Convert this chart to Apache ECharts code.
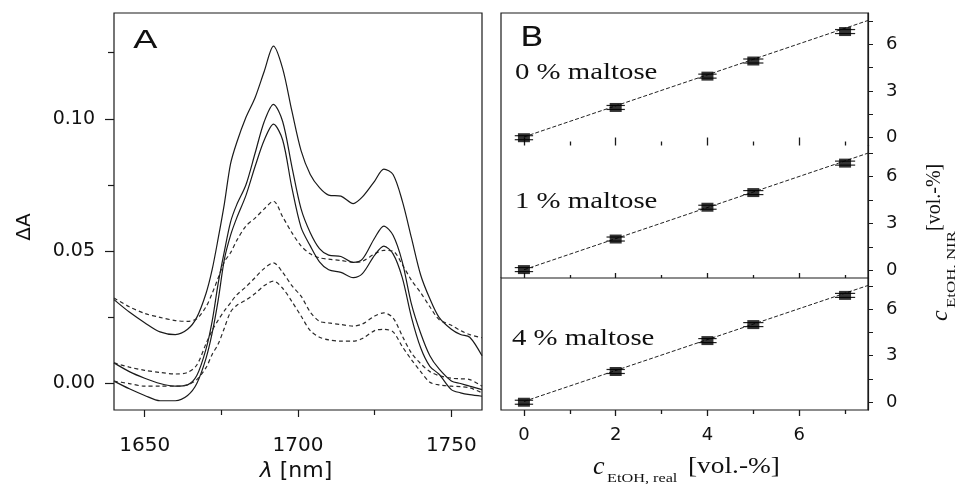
<!DOCTYPE html>
<html>
<head>
<meta charset="utf-8">
<script src="https://cdn.jsdelivr.net/npm/echarts@6/dist/echarts.min.js"></script>
<style>
html,body{margin:0;padding:0;background:#fff;}
#chart{width:955px;height:484px;}
</style>
</head>
<body>
<div id="chart"></div>
<script>
// ---------- Panel A data ----------
const wavelengths = [1640,1645,1650,1655,1660,1664,1667,1670,1672,1674,1676,1678,1680,1683,1686,1689,1692,1695,1698,1701,1704,1707,1710,1714,1718,1721,1725,1728,1731,1734,1737,1740,1743,1746,1750,1753,1756,1760];
const solid1 = [0.0317,0.027,0.023,0.0195,0.0185,0.0205,0.025,0.034,0.043,0.055,0.068,0.083,0.091,0.1005,0.108,0.118,0.1275,0.119,0.103,0.088,0.079,0.074,0.0712,0.0708,0.068,0.0705,0.0765,0.081,0.079,0.069,0.055,0.041,0.032,0.025,0.0205,0.0185,0.0175,0.0105];
const dashed1 = [0.0323,0.029,0.0265,0.025,0.0238,0.0235,0.0245,0.029,0.034,0.040,0.046,0.0494,0.054,0.0595,0.0625,0.066,0.0689,0.063,0.057,0.052,0.049,0.0475,0.047,0.0465,0.0458,0.0462,0.049,0.0503,0.050,0.045,0.039,0.0343,0.029,0.0242,0.022,0.020,0.0185,0.0173];
const solid2 = [0.0078,0.0045,0.002,0.0,-0.001,-0.0005,0.003,0.013,0.0235,0.038,0.050,0.061,0.0675,0.075,0.087,0.099,0.1055,0.099,0.082,0.066,0.057,0.051,0.0485,0.048,0.0458,0.047,0.055,0.0595,0.056,0.046,0.030,0.019,0.0105,0.0055,0.001,0.0,-0.001,-0.0023];
const solid3 = [0.0009,-0.002,-0.0045,-0.0065,-0.0065,-0.0045,0.0,0.0095,0.019,0.0317,0.047,0.056,0.0625,0.071,0.082,0.092,0.098,0.092,0.074,0.059,0.052,0.046,0.043,0.042,0.040,0.0415,0.0485,0.0519,0.049,0.040,0.025,0.0135,0.0065,0.0035,-0.0023,-0.0035,-0.0042,-0.0048];
const dashed2 = [0.0078,0.0062,0.005,0.0042,0.0036,0.0042,0.007,0.015,0.020,0.024,0.0275,0.0305,0.0335,0.0365,0.040,0.0435,0.0456,0.042,0.037,0.033,0.027,0.0235,0.0229,0.0223,0.0217,0.0225,0.0255,0.0267,0.0248,0.018,0.0115,0.0075,0.0045,0.003,0.002,0.0018,0.0015,-0.001];
const dashed3 = [0.0009,0.0,-0.001,-0.001,-0.001,-0.0005,0.0015,0.006,0.011,0.015,0.021,0.027,0.0295,0.0315,0.034,0.037,0.0387,0.036,0.031,0.0255,0.020,0.0175,0.0165,0.016,0.016,0.017,0.020,0.0205,0.0195,0.014,0.009,0.0045,0.0005,-0.0005,-0.001,-0.0012,-0.0016,-0.0035];
const aXMajorTicks = [1650,1700,1750];
const aXMinorTicks = [1675,1725];
const aYMajorTicks = [0,0.05,0.1];
const aYMinorTicks = [0.025,0.075,0.125];

// ---------- Panel B data ----------
const cReal = [0,2,4,5,7];
const cNir0 = [0.0,1.94,3.95,4.92,6.81];
const cNir1 = [0.04,2.0,4.04,4.98,6.87];
const cNir4 = [0.0,1.98,3.97,5.0,6.88];
const cErr = [0.2,0.2,0.2,0.22,0.22];
const fitX = [0,7.5];
const fit0 = [0.05,7.52];
const fit1 = [0.03,7.51];
const fit4 = [0.05,7.52];
const bXMajorTicks = [0,2,4,6];
const bXMinorTicks = [1,3,5,7];
const bYTicks = [0,1.5,3,4.5,6,7.5];
const bYLabels = [0,3,6];
const panelLabels = ['0 % maltose','1 % maltose','4 % maltose'];

const zip = (xs, ys) => xs.map((x, i) => [x, ys[i]]);
const INK = '#1a1a1a';
const SANS = '"DejaVu Sans", sans-serif';
const SERIF = '"Liberation Serif", "Times New Roman", serif';

const chart = echarts.init(document.getElementById('chart'), null, {renderer: 'canvas'});

function tickAxis(opts) {
  const base = {
    type: 'value',
    splitLine: {show: false},
    axisLine: {show: false, onZero: false},
    axisLabel: {show: false},
    axisTick: {show: true}
  };
  const out = Object.assign(base, opts);
  out.axisLine = Object.assign({show: false}, opts.axisLine || {}, {onZero: false});
  return out;
}

// Panel A axes
const xAxes = [
  tickAxis({gridIndex: 0, min: 1640, max: 1760, position: 'bottom',
    axisTick: {show: true, customValues: aXMajorTicks, length: 7, lineStyle: {color: INK, width: 1.2}},
    axisLabel: {show: true, customValues: aXMajorTicks, fontSize: 20, fontFamily: SANS, color: '#111', margin: 26,
      formatter: v => String(v)}}),
  tickAxis({gridIndex: 0, min: 1640, max: 1760, position: 'bottom',
    axisTick: {show: true, customValues: aXMinorTicks, length: 5, lineStyle: {color: INK, width: 1.2}}})
];
const yAxes = [
  tickAxis({gridIndex: 0, min: -0.01, max: 0.14, position: 'left',
    axisTick: {show: true, customValues: aYMajorTicks, length: 9, lineStyle: {color: INK, width: 1.2}},
    axisLabel: {show: true, customValues: aYMajorTicks, fontSize: 19, fontFamily: SANS, color: '#111', margin: 19,
      formatter: v => Number(v).toFixed(2)}}),
  tickAxis({gridIndex: 0, min: -0.01, max: 0.14, position: 'left',
    axisTick: {show: true, customValues: aYMinorTicks, length: 6, lineStyle: {color: INK, width: 1.2}}})
];

// Panel B axes (grids 1..3)
const bTickSpec = [
  {inside: true, major: 8, minor: 4},
  {inside: true, major: 5, minor: 3},
  {inside: false, major: 6, minor: 4}
];
for (let k = 0; k < 3; k++) {
  const g = k + 1;
  const spec = bTickSpec[k];
  xAxes.push(tickAxis({gridIndex: g, min: -0.5, max: 7.5, position: 'bottom',
    axisTick: {show: true, inside: spec.inside, customValues: bXMajorTicks, length: spec.major, lineStyle: {color: INK, width: 1.3}},
    axisLabel: k === 2 ? {show: true, customValues: bXMajorTicks, fontSize: 18, fontFamily: SANS, color: '#111', margin: 16,
      formatter: v => String(v)} : {show: false}}));
  xAxes.push(tickAxis({gridIndex: g, min: -0.5, max: 7.5, position: 'bottom',
    axisTick: {show: true, inside: spec.inside, customValues: bXMinorTicks, length: spec.minor, lineStyle: {color: INK, width: 1.3}}}));
  yAxes.push(tickAxis({gridIndex: g, min: -0.5, max: 8, position: 'right',
    axisLine: {show: true, lineStyle: {color: INK, width: 1.2}},
    axisTick: {show: true, customValues: bYTicks, length: 5, lineStyle: {color: INK, width: 1}},
    axisLabel: {show: true, customValues: bYLabels, fontSize: 18, fontFamily: SANS, color: '#111', margin: 18,
      formatter: v => String(v)}}));
}

function spectrum(values, dashed) {
  return {
    type: 'line', xAxisIndex: 0, yAxisIndex: 0,
    data: zip(wavelengths, values),
    showSymbol: false, symbol: 'none', smooth: 0.3,
    lineStyle: {color: dashed ? '#2a2a2a' : INK, width: 1.2, type: dashed ? [4, 3] : 'solid'},
    z: 3
  };
}

function errRender(params, api) {
  const x = api.value(0), y = api.value(1), e = api.value(2);
  const p0 = api.coord([x - e, y]);
  const p1 = api.coord([x + e, y]);
  const st = {stroke: '#222', lineWidth: 1.2};
  return {type: 'group', children: [
    {type: 'line', shape: {x1: p0[0], y1: p0[1] - 2, x2: p1[0], y2: p1[1] - 2}, style: st},
    {type: 'line', shape: {x1: p0[0], y1: p0[1] + 2, x2: p1[0], y2: p1[1] + 2}, style: st}
  ]};
}

const series = [
  spectrum(solid1, false), spectrum(dashed1, true),
  spectrum(solid2, false), spectrum(solid3, false),
  spectrum(dashed2, true), spectrum(dashed3, true)
];
const bSets = [[cNir0, fit0], [cNir1, fit1], [cNir4, fit4]];
bSets.forEach(([ys, fit], k) => {
  const xi = 2 + 2 * k, yi = 2 + k;
  series.push({
    type: 'line', xAxisIndex: xi, yAxisIndex: yi, data: zip(fitX, fit),
    showSymbol: false, symbol: 'none',
    lineStyle: {color: '#222', width: 1, type: [4, 2]}, z: 2
  });
  series.push({
    type: 'custom', xAxisIndex: xi, yAxisIndex: yi,
    data: cReal.map((x, i) => [x, ys[i], cErr[i]]),
    encode: {x: 0, y: 1}, renderItem: errRender, z: 3
  });
  series.push({
    type: 'scatter', xAxisIndex: xi, yAxisIndex: yi, data: zip(cReal, ys),
    symbol: 'rect', symbolSize: [12, 9],
    itemStyle: {color: '#000'}, z: 4
  });
});

function T(text, x, y, font, extra) {
  extra = extra || {};
  const style = Object.assign({text: text, font: font, fill: '#111',
    textAlign: 'left', align: 'left', textVerticalAlign: 'middle', verticalAlign: 'middle'}, extra.style || {});
  const el = {type: 'text', x: x, y: y, silent: true, style: style};
  Object.keys(extra).forEach(k => { if (k !== 'style') el[k] = extra[k]; });
  return el;
}

const graphics = [
  // upper frame of panel B (no line between the first two sub-panels)
  {type: 'polyline', silent: true, shape: {points: [[501, 278], [501, 13], [868, 13], [868, 278]]},
    style: {stroke: INK, lineWidth: 1.2, fill: null}},
  T('A', 133, 42, '24px ' + SANS, {scaleX: 1.5}),
  T('B', 520, 38.5, '27px ' + SANS, {scaleX: 1.28}),
  T('\u0394A', 25, 227, '20px ' + SANS, {rotation: Math.PI / 2, style: {textAlign: 'center', align: 'center'}}),
  {type: 'text', x: 296, y: 471, silent: true,
    style: {text: '{i|\u03bb} [nm]', font: '22px ' + SANS, fill: '#111', textAlign: 'center', align: 'center',
      textVerticalAlign: 'middle', verticalAlign: 'middle',
      rich: {i: {fontStyle: 'italic', fontSize: 22, fontFamily: SANS, fill: '#111'}}}},
  T(panelLabels[0], 515, 73, '24px ' + SERIF, {scaleX: 1.2}),
  T(panelLabels[1], 515, 202, '24px ' + SERIF, {scaleX: 1.2}),
  T(panelLabels[2], 512, 339, '24px ' + SERIF, {scaleX: 1.2}),
  // bottom axis name of panel B
  T('c', 593, 467, 'italic 26px ' + SERIF),
  T('EtOH, real', 607, 479, '13px ' + SERIF, {scaleX: 1.25}),
  T('[vol.-%]', 688, 467, '24px ' + SERIF, {scaleX: 1.14}),
  // right axis name of panel B (rotated)
  T('c', 941, 321, 'italic 24px ' + SERIF, {rotation: Math.PI / 2}),
  T('EtOH, NIR', 952, 308, '13px ' + SERIF, {rotation: Math.PI / 2, scaleX: 1.3}),
  T('[vol.-%]', 935, 231, '20px ' + SERIF, {rotation: Math.PI / 2})
];

chart.setOption({
  animation: false,
  backgroundColor: '#fff',
  grid: [
    {left: 114, top: 13, width: 368, height: 397, show: true, borderColor: INK, borderWidth: 1.2, backgroundColor: 'transparent', outerBoundsMode: 'none', containLabel: false},
    {left: 501, top: 13, width: 367, height: 132.5, show: false, outerBoundsMode: 'none', containLabel: false},
    {left: 501, top: 145.5, width: 367, height: 132.5, show: false, outerBoundsMode: 'none', containLabel: false},
    {left: 501, top: 278, width: 367, height: 132, show: true, borderColor: INK, borderWidth: 1.2, backgroundColor: 'transparent', outerBoundsMode: 'none', containLabel: false}
  ],
  xAxis: xAxes,
  yAxis: yAxes,
  series: series,
  graphic: {elements: graphics}
});
</script>
</body>
</html>
